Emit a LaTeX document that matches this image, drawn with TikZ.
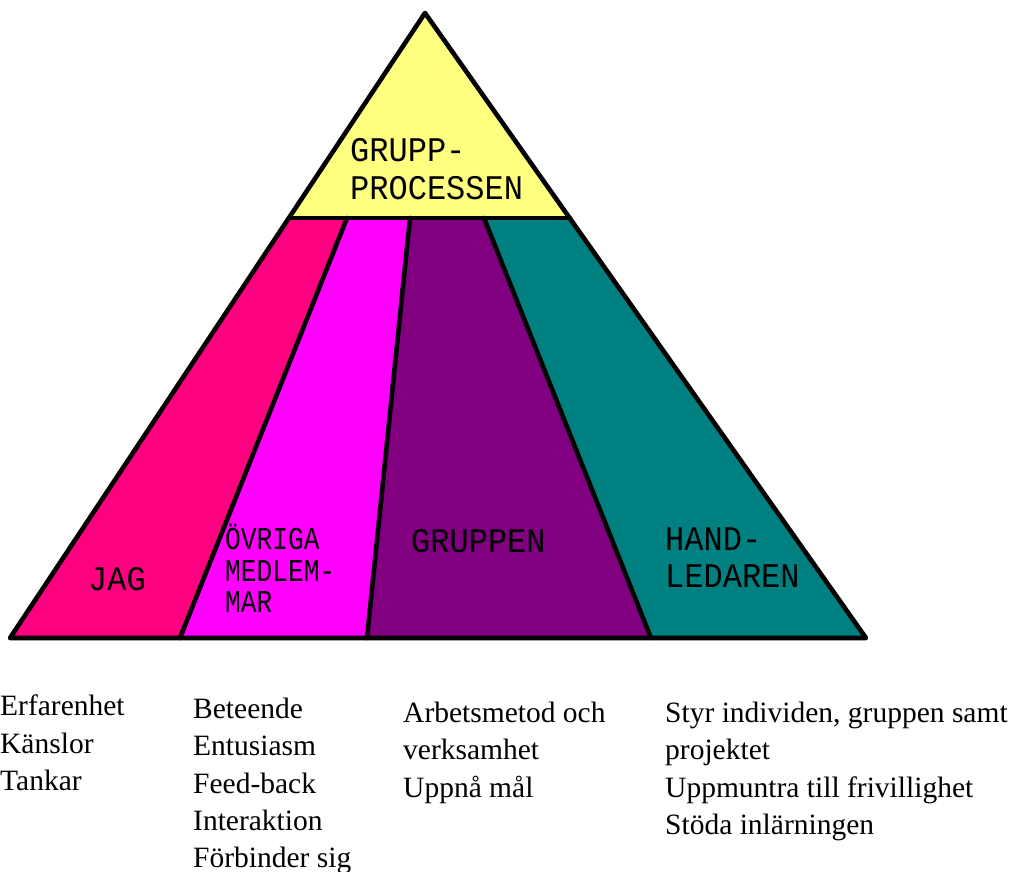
\documentclass[tikz,border=0pt]{standalone}
\usepackage{fontspec}
\usepackage{graphicx}
\setmainfont{Liberation Serif}
\newfontfamily\labelfont{Liberation Mono}
\definecolor{cyellow}{RGB}{255,255,128}
\definecolor{cpink}{RGB}{255,0,128}
\definecolor{cmagenta}{RGB}{255,0,255}
\definecolor{cpurple}{RGB}{128,0,128}
\definecolor{cteal}{RGB}{0,128,128}
\newcommand{\tallbig}[1]{\scalebox{1}[1.08]{#1}}
\newcommand{\tallsmall}[1]{\scalebox{0.97}[1.18]{#1}}
\tikzset{
  outline/.style={draw=black,line width=4.6pt,line join=round,line cap=round},
  biglabel/.style={anchor=base west,inner sep=0pt,font=\labelfont\fontsize{32}{38}\selectfont},
  smalllabel/.style={anchor=base west,inner sep=0pt,font=\labelfont\fontsize{27}{37}\selectfont},
  bodytext/.style={anchor=base west,inner sep=0pt,font=\fontsize{29.5}{38}\selectfont}
}
\begin{document}
\begin{tikzpicture}[x=1pt,y=-1pt]
\useasboundingbox (0,0) rectangle (1010,872);
% corners
\coordinate (A) at (425,13);
\coordinate (L) at (10,638);
\coordinate (R) at (866,638);
\coordinate (YL) at (289,218);
\coordinate (YR) at (570,218);
\coordinate (T1) at (347,218);
\coordinate (T2) at (410,218);
\coordinate (T3) at (484,218);
\coordinate (B1) at (180,638);
\coordinate (B2) at (367,638);
\coordinate (B3) at (651,638);
% fills
\fill[cyellow] (A) -- (YL) -- (YR) -- cycle;
\fill[cpink] (YL) -- (T1) -- (B1) -- (L) -- cycle;
\fill[cmagenta] (T1) -- (T2) -- (B2) -- (B1) -- cycle;
\fill[cpurple] (T2) -- (T3) -- (B3) -- (B2) -- cycle;
\fill[cteal] (T3) -- (YR) -- (R) -- (B3) -- cycle;
% outlines
\draw[outline] (A) -- (L) -- (R) -- cycle;
\draw[outline] (YL) -- (YR);
\draw[outline] (T1) -- (B1);
\draw[outline] (T2) -- (B2);
\draw[outline] (T3) -- (B3);
% labels in triangle
\node[biglabel] (g1) at (350,162) {\tallbig{GRUPP-}};
\node[biglabel] (g2) at (350,200) {\tallbig{PROCESSEN}};
\node[biglabel] (jag) at (88,590) {\tallbig{JAG}};
\node[smalllabel] (ov1) at (225,549) {\tallsmall{ÖVRIGA}};
\node[smalllabel] (ov2) at (225,581) {\tallsmall{MEDLEM-}};
\node[smalllabel] (ov3) at (225,612) {\tallsmall{MAR}};
\node[biglabel] (grp) at (411,552) {\tallbig{GRUPPEN}};
\node[biglabel] (h1) at (665,550) {\tallbig{HAND-}};
\node[biglabel] (h2) at (665,587) {\tallbig{LEDAREN}};
% lists
\node[bodytext] (c1a) at (0,715) {Erfarenhet};
\node[bodytext] (c1b) at (0,753) {Känslor};
\node[bodytext] (c1c) at (0,790) {Tankar};
\node[bodytext] (c2a) at (193,718) {Beteende};
\node[bodytext] (c2b) at (193,755.5) {Entusiasm};
\node[bodytext] (c2c) at (193,793) {Feed-back};
\node[bodytext] (c2d) at (193,830.5) {Interaktion};
\node[bodytext] (c2e) at (193,867) {Förbinder sig};
\node[bodytext] (c3a) at (403,722) {Arbetsmetod och};
\node[bodytext] (c3b) at (403,759.5) {verksamhet};
\node[bodytext] (c3c) at (403,797) {Uppnå mål};
\node[bodytext] (c4a) at (665,722) {Styr individen, gruppen samt};
\node[bodytext] (c4b) at (665,759.5) {projektet};
\node[bodytext] (c4c) at (665,797) {Uppmuntra till frivillighet};
\node[bodytext] (c4d) at (665,834.5) {Stöda inlärningen};
\end{tikzpicture}
\end{document}
